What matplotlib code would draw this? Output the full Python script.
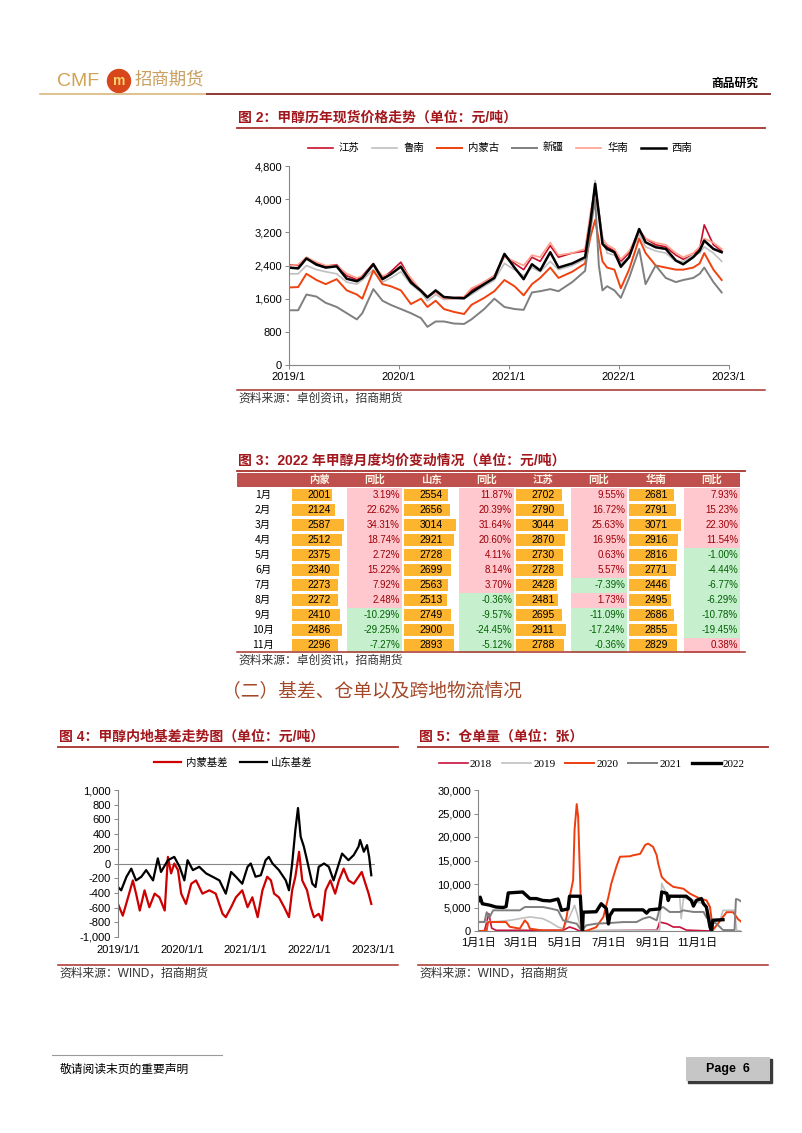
import matplotlib
matplotlib.use('Agg')
import numpy as np
from matplotlib import pyplot as plt
from matplotlib.lines import Line2D
from matplotlib.patches import Rectangle, Ellipse
from matplotlib.ticker import FuncFormatter

W, H = 802, 1133
CJK = ['Noto Sans CJK SC', 'DejaVu Sans']
plt.rcParams['font.family'] = ['Liberation Sans', 'Noto Sans CJK SC', 'DejaVu Sans']
plt.rcParams['axes.unicode_minus'] = False

TITLE_RED = '#A3171C'
RULE_RED = '#A8302B'
AXIS_GRAY = '#868686'

# ---- 图2 现货价格, x in months since 2019/1 ----
X2 = [0, 1.0, 1.9, 3.0, 4.0, 5.2, 6.3, 7.4, 8.0, 9.2,
      10.2, 11.1, 12.2, 13.3, 14.4, 15.1, 16.0, 16.9, 18.0, 19.1,
      19.9, 21.3, 22.4, 23.5, 24.6, 25.6, 26.5, 27.4, 28.5, 29.4,
      30.9, 32.3, 32.9, 33.4, 33.8, 34.2, 34.7, 35.5, 36.2, 37.1,
      38.2, 38.9, 40.0, 41.1, 42.2, 43.0, 44.1, 44.8, 45.3, 46.3,
      47.2]
JIANGSU = [2420, 2400, 2590, 2450, 2380, 2420, 2150, 2060, 2150, 2450,
           2100, 2250, 2480, 2050, 1800, 1650, 1780, 1600, 1620, 1640,
           1800, 2000, 2150, 2650, 2450, 2300, 2600, 2500, 2880, 2600,
           2700, 2750, 3600, 4300, 3700, 3000, 2850, 2750, 2500, 2700,
           3250, 3050, 2900, 2850, 2650, 2550, 2650, 2800, 3380, 2900,
           2750]
LUNAN = [2200, 2200, 2400, 2300, 2250, 2200, 2000, 1950, 2050, 2300,
         2000, 2100, 2250, 1950, 1750, 1550, 1700, 1580, 1600, 1600,
         1700, 1900, 2050, 2450, 2300, 2150, 2350, 2250, 2500, 2300,
         2400, 2550, 3400, 4450, 3700, 3100, 2700, 2650, 2450, 2600,
         3150, 2850, 2750, 2700, 2500, 2500, 2650, 2700, 2850, 2700,
         2500]
NEIMENGGU = [1870, 1880, 2200, 2050, 1950, 2070, 1800, 1700, 1600, 2280,
             1950, 1900, 1800, 1470, 1600, 1400, 1550, 1350, 1280, 1230,
             1450, 1620, 1780, 2050, 1900, 1680, 1950, 2100, 2350, 2100,
             2250, 2450, 3100, 3500, 3000, 2500, 2350, 2300, 1850, 2300,
             3050, 2700, 2400, 2350, 2300, 2300, 2350, 2450, 2700, 2300,
             2050]
XINJIANG = [1320, 1320, 1700, 1650, 1500, 1400, 1250, 1100, 1250, 1830,
            1550, 1450, 1350, 1250, 1130, 920, 1050, 1050, 1000, 990,
            1100, 1350, 1600, 1400, 1350, 1330, 1750, 1780, 1830, 1780,
            2000, 2270, 3300, 4000, 2400, 1800, 1900, 1800, 1620, 2100,
            2800, 1950, 2400, 2100, 2000, 2050, 2100, 2200, 2350, 2000,
            1750]
HUANAN = [2400, 2420, 2600, 2480, 2400, 2400, 2200, 2100, 2150, 2400,
          2150, 2200, 2400, 2100, 1800, 1650, 1750, 1600, 1600, 1650,
          1850, 2000, 2150, 2600, 2500, 2400, 2650, 2600, 2950, 2650,
          2700, 2800, 3700, 4200, 3600, 3050, 2900, 2800, 2550, 2750,
          3200, 3050, 2950, 2900, 2700, 2600, 2700, 2850, 3050, 2950,
          2800]
XINAN = [2350, 2330, 2570, 2420, 2350, 2380, 2080, 2020, 2100, 2430,
         2070, 2190, 2370, 1990, 1790, 1630, 1800, 1640, 1620, 1610,
         1750, 1950, 2100, 2680, 2350, 2070, 2430, 2280, 2720, 2350,
         2450, 2600, 3480, 4370, 3650, 2920, 2800, 2720, 2370, 2600,
         3280, 2960, 2840, 2800, 2520, 2430, 2600, 2760, 3000, 2800,
         2720]
YEAR_LABELS_2 = ['2019/1', '2020/1', '2021/1', '2022/1', '2023/1']

# ---- 图3 2022 月度均价 ----
MONTHS = ['1月', '2月', '3月', '4月', '5月', '6月', '7月', '8月', '9月', '10月', '11月']
TABLE_HEAD = ['内蒙', '同比', '山东', '同比', '江苏', '同比', '华南', '同比']
NM_PRICE = [2001, 2124, 2587, 2512, 2375, 2340, 2273, 2272, 2410, 2486, 2296]
NM_YOY = [3.19, 22.62, 34.31, 18.74, 2.72, 15.22, 7.92, 2.48, -10.29, -29.25, -7.27]
SD_PRICE = [2554, 2656, 3014, 2921, 2728, 2699, 2563, 2513, 2749, 2900, 2893]
SD_YOY = [11.87, 20.39, 31.64, 20.60, 4.11, 8.14, 3.70, -0.36, -9.57, -24.45, -5.12]
JS_PRICE = [2702, 2790, 3044, 2870, 2730, 2728, 2428, 2481, 2695, 2911, 2788]
JS_YOY = [9.55, 16.72, 25.63, 16.95, 0.63, 5.57, -7.39, 1.73, -11.09, -17.24, -0.36]
HN_PRICE = [2681, 2791, 3071, 2916, 2816, 2771, 2446, 2495, 2686, 2855, 2829]
HN_YOY = [7.93, 15.23, 22.30, 11.54, -1.00, -4.44, -6.77, -6.29, -10.78, -19.45, 0.38]

# ---- 图4 基差, x in months since 2019/1/1 ----
NM_BASIS_X = [0, 0.9, 1.9, 2.8, 3.4, 4.1, 5.0, 5.9, 6.9, 7.8,
              8.8, 9.4, 10.0, 10.6, 11.3, 11.9, 12.8, 13.8, 14.7, 15.9,
              17.2, 18.4, 19.7, 20.3, 21.3, 22.2, 23.4, 24.4, 25.3, 26.3,
              27.2, 28.1, 28.8, 29.4, 30.3, 31.3, 32.2, 32.8, 33.4, 34.1,
              34.7, 35.6, 36.3, 36.9, 37.8, 38.4, 39.1, 40.0, 40.9, 41.6,
              42.5, 43.4, 44.4, 45.3, 45.9, 46.6, 47.2, 47.7]
NM_BASIS = [-550, -710, -460, -230, -410, -640, -365, -595, -410, -460,
            -640, 90, -135, 0, -90, -410, -550, -275, -230, -410,
            -365, -410, -685, -730, -595, -460, -365, -595, -460, -730,
            -365, -180, -230, -410, -460, -595, -730, -365, -180, 160,
            -230, -365, -595, -730, -685, -775, -365, -230, -410, -230,
            -70, -230, -275, -180, -115, -275, -410, -550]
SD_BASIS_X = [0, 0.6, 1.6, 2.5, 3.4, 4.4, 5.3, 6.6, 7.5, 8.1,
              9.4, 10.6, 11.6, 12.5, 13.1, 14.1, 15.3, 16.6, 17.8, 19.1,
              20.3, 21.3, 22.2, 23.4, 24.4, 25.0, 25.9, 26.9, 27.8, 28.4,
              29.1, 30.3, 31.6, 32.2, 32.8, 33.4, 33.9, 34.4, 35.0, 35.6,
              36.6, 37.2, 37.8, 38.8, 39.7, 40.6, 41.3, 42.2, 43.4, 44.4,
              45.3, 45.6, 46.3, 46.9, 47.3, 47.7]
SD_BASIS = [-320, -365, -180, -70, -230, -180, -90, -230, 70, -115,
            45, 90, -45, -230, 45, -90, -45, -135, -180, -230,
            -410, -115, -180, -275, -45, 0, -180, -160, 45, 90,
            0, -90, -230, -365, 0, 455, 755, 365, 230, 45,
            -275, -320, -45, 0, -45, -230, -70, 135, 45, 115,
            230, 320, 160, 250, 90, -160]
YEAR_LABELS_4 = ['2019/1/1', '2020/1/1', '2021/1/1', '2022/1/1', '2023/1/1']

# ---- 图5 仓单量, x in day of year ----
D2018 = [0, 9, 15, 19, 25, 118, 127, 134, 141, 248, 250, 252, 262, 271, 280, 289, 322]
V2018 = [0, 50, 3700, 600, 150, 150, 850, 500, 0, 200, 850, 1900, 1560, 850, 850, 200, 0]
D2019 = [0, 25, 44, 58, 72, 90, 100, 111, 118, 127,
         134, 137, 141, 144, 183, 252, 255, 257, 262, 271,
         280, 282, 285, 294, 303, 313, 317, 322, 326, 336,
         340, 356, 359, 365]
V2019 = [2000, 2000, 2270, 2630, 3000, 2630, 1900, 850, 500, 3000,
         5470, 4000, 1560, 100, 150, 150, 10100, 9400, 7960, 7250,
         7250, 2630, 6900, 6900, 6200, 5800, 5100, 3000, 1900, 2270,
         4400, 4400, 100, 0]
D2020 = [0, 12, 14, 39, 44, 58, 65, 69, 72, 90,
         118, 123, 127, 132, 134, 137, 139, 141, 144, 150,
         164, 174, 181, 185, 192, 197, 211, 215, 225, 232,
         236, 243, 248, 250, 255, 262, 271, 285, 294, 308,
         317, 322, 326, 333, 340, 345, 354, 361, 365]
V2020 = [0, 50, 1900, 1900, 900, 500, 2270, 1600, 500, 100,
         100, 3000, 7000, 10800, 21500, 27000, 24300, 14400, 0, 0,
         800, 3000, 7250, 10100, 13650, 15800, 15900, 16100, 16400, 18300,
         18600, 17900, 16100, 14400, 11500, 10400, 9400, 9000, 7960, 6900,
         6540, 5100, 200, 1560, 3000, 4000, 4000, 2500, 2000]
D2021 = [0, 9, 12, 16, 21, 30, 44, 58, 65, 90,
         100, 111, 118, 127, 137, 144, 150, 164, 183, 201,
         220, 229, 238, 248, 252, 257, 266, 280, 285, 299,
         313, 317, 322, 331, 340, 356, 358, 361, 365]
V2021 = [1900, 1900, 4000, 2900, 4400, 4400, 4400, 4400, 5100, 5100,
         4800, 4400, 2270, 1900, 1560, 0, 1200, 1560, 1700, 1900,
         1900, 2630, 3000, 2270, 4760, 5100, 4050, 4050, 4400, 4050,
         4050, 2900, 2270, 1560, 200, 200, 6800, 6700, 6300]
D2022 = [1, 3, 6, 16, 25, 35, 39, 42, 62, 67,
         72, 81, 90, 100, 111, 116, 125, 127, 142, 144,
         145, 146, 164, 171, 178, 181, 183, 188, 229, 234,
         238, 252, 255, 262, 264, 266, 289, 296, 299, 303,
         310, 313, 317, 322, 324, 326, 340]
V2022 = [6500, 7200, 5800, 5500, 5100, 5000, 5200, 8100, 8300, 7600,
         6900, 6900, 6500, 6400, 6800, 4400, 4700, 7400, 7400, 2000,
         0, 4000, 4100, 5800, 4800, 1500, 3300, 4500, 4500, 3800,
         4500, 4700, 8300, 8000, 6500, 7400, 7400, 6500, 5300, 6500,
         6900, 5800, 5100, 850, 0, 2300, 2400]
DAY_TICKS = [0, 59, 120, 181, 243, 304]
DAY_LABELS = ['1月1日', '3月1日', '5月1日', '7月1日', '9月1日', '11月1日']


fig = plt.figure(figsize=(W / 100, H / 100), dpi=100)


def fx(x):
    return x / W


def fy(y):
    return 1 - y / H


def rule(x0, x1, y, color=RULE_RED, lw=1.1):
    fig.add_artist(Line2D([fx(x0), fx(x1)], [fy(y), fy(y)], color=color,
                          lw=lw, transform=fig.transFigure))


def put(x, y, s, size=9, color='black', ha='left', va='center', **kw):
    return fig.text(fx(x), fy(y), s, fontsize=size, color=color, ha=ha, va=va, **kw)


def px_axes(x0, y0, x1, y1):
    return fig.add_axes([fx(x0), fy(y1), (x1 - x0) / W, (y1 - y0) / H])


def caption(x0, x1, y, s):
    put(x0 + 1, y, s, size=10, color=TITLE_RED, weight='bold')
    rule(x0, x1, y + 10, lw=1.3)


def source(x0, x1, y, s):
    rule(x0, x1, y, lw=1.1)
    put(x0 + 1, y + 9, s, size=8.5, color='#333333')


def base_style(ax):
    for side in ('top', 'right'):
        ax.spines[side].set_visible(False)
    for side in ('left', 'bottom'):
        ax.spines[side].set_color(AXIS_GRAY)
        ax.spines[side].set_linewidth(0.8)
    ax.tick_params(axis='both', colors=AXIS_GRAY, labelcolor='black',
                   labelsize=8, length=3, width=0.7, pad=2)
    ax.yaxis.set_major_formatter(FuncFormatter(lambda v, p: f'{v:,.0f}'))
    ax.patch.set_alpha(0)


# ---- page header ----
put(57, 81, 'CMF', size=14, color='#D3A253')
fig.add_artist(Ellipse((fx(119), fy(81)), 23 / W, 23 / H, color='#D8461C',
                       transform=fig.transFigure))
put(119, 81, 'm', size=10, color='#F7D36A', ha='center', weight='bold')
put(135, 80, '招商期货', size=12.5, color='#C99E5E', family=CJK)
put(758, 83, '商品研究', size=8.5, ha='right', weight='bold', family=CJK)
rule(40, 207, 94, color='#D9B77A', lw=1.2)
rule(207, 770, 94, color='#8E3A33', lw=1.4)

# ---- 图2 ----
caption(237, 765, 118, '图 2：甲醇历年现货价格走势（单位：元/吨）')
ax2 = px_axes(289, 166, 729, 365)
series2 = [('江苏', JIANGSU, '#C8102E', 1.2), ('鲁南', LUNAN, '#BFBFBF', 1.2),
           ('内蒙古', NEIMENGGU, '#F0420F', 1.4), ('新疆', XINJIANG, '#7F7F7F', 1.4),
           ('华南', HUANAN, '#FFA08C', 1.2), ('西南', XINAN, 'black', 1.8)]
for name, vals, col, lw in series2:
    ax2.plot(X2, vals, color=col, lw=lw, label=name)
ax2.set_xlim(0, 48)
ax2.set_ylim(0, 4800)
ax2.set_yticks(np.arange(0, 4801, 800))
ax2.set_xticks([0, 12, 24, 36, 48])
ax2.set_xticklabels(YEAR_LABELS_2)
base_style(ax2)
ax2.legend(loc='center', bbox_to_anchor=(0.48, 1.09), ncol=6, frameon=False,
           prop={'family': CJK, 'size': 7.5}, handlelength=2.4,
           handletextpad=0.6, columnspacing=1.2, borderaxespad=0)
source(237, 765, 390, '资料来源：卓创资讯，招商期货')

# ---- 图3 table ----
caption(237, 745, 461, '图 3：2022 年甲醇月度均价变动情况（单位：元/吨）')
CELLS = [(292, 346), (347, 402), (404, 458), (459, 514),
         (516, 570), (571, 627), (629, 683), (684, 740)]
tab = px_axes(237, 472.5, 740, 652.5)
tab.set_xlim(237, 740)
tab.set_ylim(10.5, -1.5)
tab.axis('off')
rows = np.arange(len(MONTHS))
tab.barh(-1, 740 - 237, left=237, height=0.87, color='#C0504D', lw=0)
for (x0, x1), head in zip(CELLS, TABLE_HEAD):
    tab.text((x0 + x1) / 2, -1, head, ha='center', va='center', color='#FFF6E8',
             fontsize=7.5, family=CJK, weight='bold')
for r, m in zip(rows, MONTHS):
    tab.text(263, r, m, ha='center', va='center', fontsize=7.5, family=CJK)
price_cols = [NM_PRICE, SD_PRICE, JS_PRICE, HN_PRICE]
yoy_cols = [NM_YOY, SD_YOY, JS_YOY, HN_YOY]
for k, (price, yoy) in enumerate(zip(price_cols, yoy_cols)):
    (px0, px1), (qx0, qx1) = CELLS[2 * k], CELLS[2 * k + 1]
    vals = np.array(price)
    tab.barh(rows, vals / vals.max() * (px1 - px0 - 2), left=px0, height=0.86,
             color='#FDB42F', lw=0)
    for r, v in zip(rows, vals):
        tab.text((px0 + px1) / 2, r, str(v), ha='center', va='center', fontsize=7.5)
    pos = np.array(yoy) >= 0
    tab.barh(rows, qx1 - qx0, left=qx0, height=1.0,
             color=np.where(pos, '#FFC7CE', '#C6EFCE'), lw=0)
    for r, v, p in zip(rows, yoy, pos):
        tab.text(qx1 - 2, r, f'{v:.2f}%', ha='right', va='center', fontsize=7,
                 color='#9C0006' if p else '#006100')
source(237, 745, 652, '资料来源：卓创资讯，招商期货')

# ---- section heading ----
put(222, 692, '（二）基差、仓单以及跨地物流情况', size=13.5, color='#A3492A', family=CJK)

# ---- 图4 ----
caption(58, 398, 737, '图 4：甲醇内地基差走势图（单位：元/吨）')
ax4 = px_axes(118, 790, 375, 937)
ax4.plot(NM_BASIS_X, NM_BASIS, color='#CC0000', lw=1.6, label='内蒙基差')
ax4.plot(SD_BASIS_X, SD_BASIS, color='black', lw=1.6, label='山东基差')
ax4.axhline(0, color=AXIS_GRAY, lw=0.8, zorder=0)
ax4.set_xlim(0, 48.4)
ax4.set_ylim(-1000, 1000)
ax4.set_yticks(np.arange(-1000, 1001, 200))
ax4.set_xticks([0, 12, 24, 36, 48])
ax4.set_xticklabels(YEAR_LABELS_4)
base_style(ax4)
ax4.spines['bottom'].set_visible(False)
ax4.tick_params(axis='x', length=0, pad=6)
ax4.legend(loc='center', bbox_to_anchor=(0.449, 1.184), ncol=2, frameon=False,
           prop={'family': CJK, 'size': 7.5}, handlelength=2.6,
           handletextpad=0.4, columnspacing=1.2, borderaxespad=0)
source(58, 398, 965, '资料来源：WIND，招商期货')

# ---- 图5 ----
caption(418, 768, 737, '图 5：仓单量（单位：张）')
ax5 = px_axes(478, 790, 741, 931)
series5 = [('2018', D2018, V2018, '#C8103C', 1.2), ('2019', D2019, V2019, '#C0C0C0', 1.2),
           ('2020', D2020, V2020, '#EE3D0E', 1.4), ('2021', D2021, V2021, '#7F7F7F', 1.4),
           ('2022', D2022, V2022, 'black', 2.4)]
for name, days, vals, col, lw in series5:
    ax5.plot(days, vals, color=col, lw=lw, label=name)
ax5.set_xlim(0, 365)
ax5.set_ylim(0, 30000)
ax5.set_yticks(np.arange(0, 30001, 5000))
ax5.set_xticks(DAY_TICKS)
ax5.set_xticklabels(DAY_LABELS)
base_style(ax5)
ax5.tick_params(axis='x', length=0, pad=5)
ax5.legend(loc='center', bbox_to_anchor=(0.433, 1.184), ncol=5, frameon=False,
           prop={'family': 'Liberation Serif', 'size': 8}, handlelength=2.6,
           handletextpad=0.2, columnspacing=0.9, borderaxespad=0)
source(418, 768, 965, '资料来源：WIND，招商期货')

# ---- footer ----
rule(52, 222, 1055, color='#9A9A9A', lw=0.8)
put(60, 1069, '敬请阅读末页的重要声明', size=8.5, family=CJK)
fig.add_artist(Rectangle((fx(688), fy(1083)), 84 / W, 24 / H, color='#3A3A3A',
                         transform=fig.transFigure))
fig.add_artist(Rectangle((fx(686), fy(1081)), 84 / W, 24 / H, facecolor='#C6C6C6',
                         edgecolor='none', transform=fig.transFigure))
put(728, 1069, 'Page  6', size=9, ha='center', weight='bold')

fig.savefig('out.png', dpi=100)
